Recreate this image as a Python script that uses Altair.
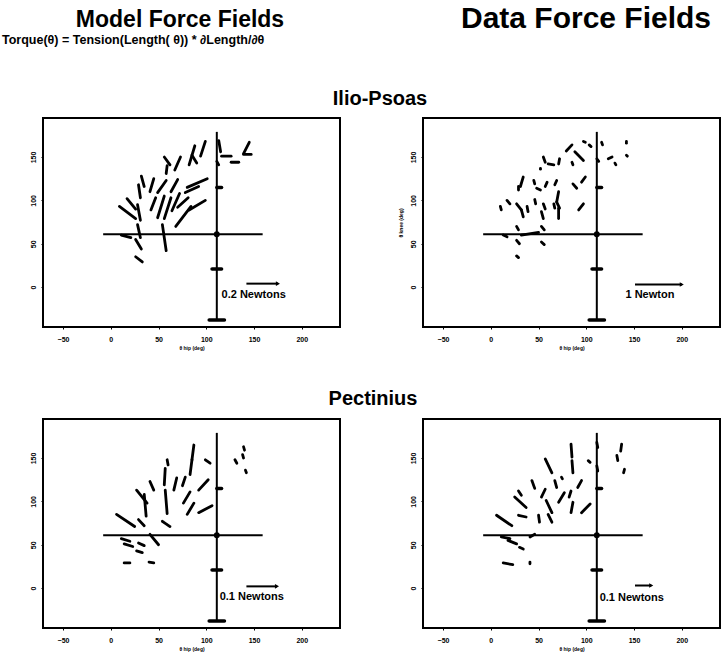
import altair as alt
import pandas as pd

FONT = "Liberation Sans"
HFONT = "Liberation Sans, Arial, sans-serif"

X_TICKS = [-50, 0, 50, 100, 150, 200]
Y_TICKS = [0, 50, 100, 150]
X_DOMAIN = [-71, 240]
Y_DOMAIN = [-46, 195]

# ---- Ilio-Psoas, model field (segment start / end) ----
IP_MODEL_X1 = [145, 139, 116, 126, 113, 99, 88, 85, 73, 56, 59, 101, 92, 70, 58, 45, 32, 29, 17, 9, 28, 47, 56, 63, 72, 81, 99, 84, 28, 11, 26, 54, 26, 111]
IP_MODEL_Y1 = [167, 153, 151, 144, 169, 168, 163, 152, 150, 150, 140, 125, 116, 124, 123, 125, 128, 118, 102, 93, 95, 103, 105, 103, 108, 103, 100, 93, 72, 60, 55, 72, 35, 145]
IP_MODEL_X2 = [139, 147, 126, 134, 115, 94, 82, 90, 67, 62, 58, 80, 78, 63, 49, 41, 35, 31, 26, 26, 31, 42, 49, 56, 64, 70, 82, 68, 31, 21, 32, 58, 33, 113]
IP_MODEL_Y2 = [154, 153, 151, 144, 156, 151, 141, 143, 135, 141, 131, 115, 109, 110, 109, 110, 116, 103, 90, 79, 77, 89, 80, 79, 88, 92, 89, 70, 57, 57, 44, 42, 29, 141]

# ---- Ilio-Psoas, data field ----
IP_DATA_X1 = [85, 97, 103, 116, 142, 142, 88, 85, 55, 60, 72, 111, 123, 130, 52, 99, 34, 29, 45, 59, 69, 86, 48, 17, 10, 27, 32, 38, 46, 55, 53, 71, 69, 71, 66, 97, 27, 13, 32, 53, 27, 53, 27]
IP_DATA_Y1 = [164, 168, 164, 167, 168, 152, 156, 144, 150, 142, 148, 148, 148, 143, 137, 127, 127, 116, 123, 121, 123, 119, 114, 100, 93, 96, 89, 93, 101, 96, 87, 110, 98, 91, 96, 96, 70, 60, 60, 70, 54, 52, 36]
IP_DATA_X2 = [79, 99, 105, 117, 142, 143, 97, 86, 57, 66, 71, 113, 127, 131, 52, 95, 31, 29, 46, 57, 67, 90, 52, 20, 11, 32, 34, 39, 47, 57, 55, 69, 72, 71, 67, 92, 29, 17, 50, 56, 30, 56, 29]
IP_DATA_Y2 = [157, 167, 162, 164, 166, 151, 146, 141, 144, 141, 142, 145, 150, 141, 136, 121, 116, 112, 119, 116, 118, 114, 112, 96, 89, 89, 81, 87, 96, 90, 79, 98, 91, 79, 91, 89, 66, 58, 63, 66, 50, 49, 34]

# ---- Pectinius, model field ----
PE_MODEL_X1 = [139, 138, 130, 141, 99, 87, 85, 78, 59, 57, 69, 102, 83, 106, 87, 57, 41, 27, 35, 6, 29, 54, 11, 14, 29, 41, 27, 14, 40]
PE_MODEL_Y1 = [163, 154, 148, 136, 148, 165, 148, 128, 148, 138, 127, 125, 111, 95, 98, 113, 123, 113, 108, 85, 79, 77, 57, 51, 52, 62, 43, 29, 30]
PE_MODEL_X2 = [140, 139, 132, 142, 104, 85, 83, 75, 60, 56, 66, 92, 76, 92, 80, 59, 45, 38, 37, 25, 35, 62, 20, 23, 35, 50, 33, 20, 45]
PE_MODEL_Y2 = [159, 150, 144, 133, 144, 148, 131, 118, 142, 119, 113, 113, 98, 87, 85, 86, 113, 98, 83, 71, 72, 71, 54, 48, 49, 50, 41, 29, 29]

# ---- Pectinius, data field ----
PE_DATA_X1 = [111, 111, 137, 132, 140, 102, 84, 85, 57, 74, 95, 67, 43, 29, 84, 77, 57, 58, 86, 104, 25, 6, 29, 50, 60, 11, 18, 41, 30, 13, 41]
PE_DATA_Y1 = [168, 141, 166, 153, 137, 147, 166, 147, 149, 128, 124, 124, 124, 112, 112, 110, 114, 101, 99, 97, 105, 84, 84, 84, 85, 59, 55, 59, 47, 29, 30]
PE_DATA_X2 = [112, 112, 136, 133, 139, 104, 85, 86, 64, 75, 91, 69, 46, 32, 82, 71, 53, 64, 84, 95, 37, 22, 37, 51, 64, 20, 27, 46, 34, 23, 41]
PE_DATA_Y2 = [162, 135, 158, 147, 133, 145, 151, 133, 133, 126, 116, 116, 115, 107, 105, 99, 105, 87, 87, 87, 93, 72, 82, 76, 76, 57, 51, 62, 45, 27, 28]

# ---- reference cross drawn in every panel ----
CROSS_X1 = [-8, 111]
CROSS_Y1 = [61, -38]
CROSS_X2 = [159, 111]
CROSS_Y2 = [61, 179]
MARK_X1 = [103, 106, 111]
MARK_X2 = [119, 116, 116]
MARK_Y = [-38, 21, 115]
CENTER_X = [111]
CENTER_Y = [61]

# ---- force scale arrows and their labels ----
SCALE_LABELS = ["0.2 Newtons", "1 Newton", "0.1 Newtons", "0.1 Newtons"]
SCALE_TEXT_X = [116, 141, 114, 114]
SCALE_TEXT_Y = [-9, -9, -10, -11]
ARROW_X1 = [142, 151, 142, 151]
ARROW_X2 = [175, 200, 174, 168]
ARROW_Y = [4, 3, 2, 3]

X_TITLE = "θ hip (deg)"
Y_TITLE = "θ knee (deg)"


def xscale():
    return alt.Scale(domain=X_DOMAIN, nice=False, zero=False)


def xenc(field):
    return alt.X(field, type="quantitative", scale=xscale(),
                 axis=alt.Axis(values=X_TICKS, title=X_TITLE, titleFontSize=5,
                               titleFont=FONT, titleFontWeight="bold", titlePadding=3,
                               labelFontSize=7, labelFont=FONT, labelFontWeight="bold",
                               labelColor="black", tickColor="black", tickSize=2,
                               labelPadding=6, domain=False, grid=False))


def yenc(field, title):
    ax = dict(values=Y_TICKS, labelFontSize=7, labelFont=FONT, labelFontWeight="bold",
              labelColor="black", tickColor="black", tickSize=2, labelAngle=270,
              labelAlign="center", labelBaseline="bottom", labelPadding=5,
              domain=False, grid=False)
    if title:
        ax.update(title=title, titleFontSize=5, titleFont=FONT, titleFontWeight="bold",
                  titlePadding=6)
    else:
        ax.update(title="")
    return alt.Y(field, type="quantitative",
                 scale=alt.Scale(domain=Y_DOMAIN, nice=False, zero=False),
                 axis=alt.Axis(**ax))


def panel(x1, y1, x2, y2, k, y_title=None, headers=()):
    seg = pd.DataFrame({"x1": x1, "y1": y1, "x2": x2, "y2": y2})
    cross = pd.DataFrame({"x1": CROSS_X1, "y1": CROSS_Y1, "x2": CROSS_X2, "y2": CROSS_Y2})
    marks = pd.DataFrame({"x1": MARK_X1, "x2": MARK_X2, "y1": MARK_Y})
    center = pd.DataFrame({"x1": CENTER_X, "y1": CENTER_Y})
    arrow = pd.DataFrame({"x1": [ARROW_X1[k]], "x2": [ARROW_X2[k]], "y1": [ARROW_Y[k]]})
    label = pd.DataFrame({"x1": [SCALE_TEXT_X[k]], "y1": [SCALE_TEXT_Y[k]],
                          "t": [SCALE_LABELS[k]]})
    X = xenc("x1")
    Y = yenc("y1", y_title)
    layers = [
        alt.Chart(seg).mark_rule(color="black", strokeWidth=2.8, strokeCap="round")
        .encode(x=X, y=Y, x2="x2:Q", y2="y2:Q"),
        alt.Chart(cross).mark_rule(color="black", strokeWidth=2)
        .encode(x=X, y=Y, x2="x2:Q", y2="y2:Q"),
        alt.Chart(marks).mark_rule(color="black", strokeWidth=3.5, strokeCap="round")
        .encode(x=X, y=Y, x2="x2:Q"),
        alt.Chart(center).mark_point(filled=True, color="black", size=35, opacity=1)
        .encode(x=X, y=Y),
        alt.Chart(arrow).mark_rule(color="black", strokeWidth=2)
        .encode(x=X, y=Y, x2="x2:Q"),
        alt.Chart(arrow).mark_point(shape="triangle-right", filled=True, color="black",
                                    size=22, opacity=1)
        .encode(x=alt.X("x2", type="quantitative", scale=xscale()), y=Y),
        alt.Chart(label).mark_text(align="left", baseline="middle", font=FONT,
                                   fontWeight="bold", fontSize=11, color="black")
        .encode(x=X, y=Y, text="t:N"),
    ]
    for (txt, px, py, size, align, fnt) in headers:
        layers.append(
            alt.Chart(pd.DataFrame({"t": [txt]})).mark_text(
                align=align, baseline="alphabetic", font=fnt, fontWeight="bold",
                fontSize=size, color="black")
            .encode(text="t:N", x=alt.value(px), y=alt.value(py))
        )
    return alt.layer(*layers).properties(width=297, height=209)


tl = panel(IP_MODEL_X1, IP_MODEL_Y1, IP_MODEL_X2, IP_MODEL_Y2, 0,
           headers=[("Model Force Fields", 137, -91, 23, "center", HFONT),
                    ("Torque(θ) = Tension(Length( θ)) * ∂Length/∂θ", -41, -74, 12.5, "left", HFONT),
                    ("Ilio-Psoas", 337, -13, 20, "center", HFONT)])
tr = panel(IP_DATA_X1, IP_DATA_Y1, IP_DATA_X2, IP_DATA_Y2, 1, y_title=Y_TITLE,
           headers=[("Data Force Fields", 163, -90, 30, "center", HFONT)])
bl = panel(PE_MODEL_X1, PE_MODEL_Y1, PE_MODEL_X2, PE_MODEL_Y2, 2,
           headers=[("Pectinius", 330, -14, 20, "center", HFONT)])
br = panel(PE_DATA_X1, PE_DATA_Y1, PE_DATA_X2, PE_DATA_Y2, 3)

chart = alt.concat(tl, tr, bl, br, columns=2,
                   spacing=alt.RowColnumber(row=92, column=83),
                   bounds="flush").properties(
    autosize=alt.AutoSizeParams(type="none"),
    padding={"left": 43, "top": 118, "right": 685, "bottom": 537},
    background="white",
).configure_view(stroke="black", strokeWidth=2)

chart.save("out.html", embed_options={"renderer": "svg", "actions": False})
